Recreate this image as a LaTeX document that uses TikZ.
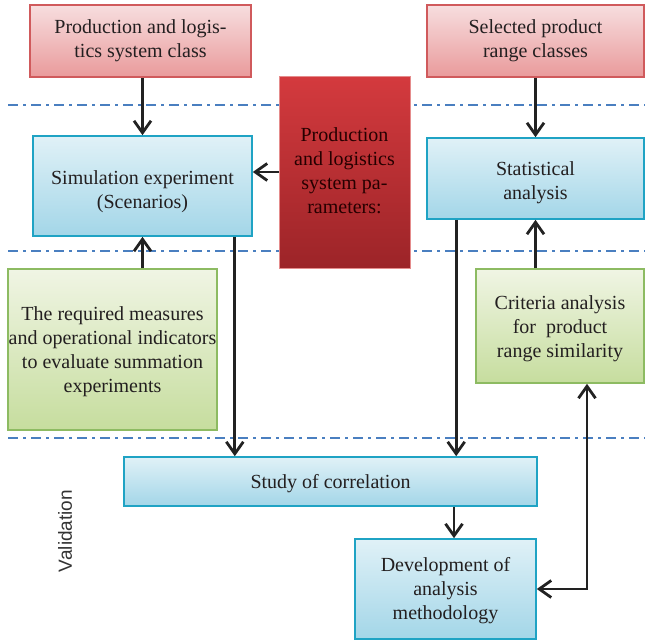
\documentclass[tikz,border=0pt]{standalone}
\usepackage{fontspec}
\setmainfont{Liberation Serif}
\setsansfont{Liberation Sans}
\usetikzlibrary{arrows.meta,calc}

\definecolor{txt}{HTML}{231F20}
\definecolor{redtop}{HTML}{F7DEDF}
\definecolor{redbot}{HTML}{E99A9B}
\definecolor{redline}{HTML}{D05A5C}
\definecolor{deeptop}{HTML}{D43A3E}
\definecolor{deepbot}{HTML}{9C2428}
\definecolor{deepline}{HTML}{E58C8C}
\definecolor{bluetop}{HTML}{E0F1F7}
\definecolor{bluebot}{HTML}{A3D6E8}
\definecolor{blueline}{HTML}{1FA3C4}
\definecolor{greentop}{HTML}{F0F5E4}
\definecolor{greenbot}{HTML}{C6DD9E}
\definecolor{greenline}{HTML}{8DBB62}
\definecolor{sepline}{HTML}{4A7FC0}
\definecolor{arrowc}{HTML}{222222}

% centred lines of text, lowered by #1 without changing the box size
\newcommand\boxlines[2]{\raisebox{-#1}[\height][\depth]{\begin{tabular}{@{}c@{}}#2\end{tabular}}}

\tikzset{
  box/.style={draw, line width=1.6pt, inner sep=0pt,
    font=\fontsize{20}{24}\selectfont, text=txt},
  redbox/.style={box, draw=redline, top color=redtop, bottom color=redbot},
  deepbox/.style={box, line width=1pt, draw=deepline, top color=deeptop, bottom color=deepbot, text=black!85!red},
  bluebox/.style={box, draw=blueline, top color=bluetop, bottom color=bluebot},
  greenbox/.style={box, draw=greenline, top color=greentop, bottom color=greenbot},
  sep/.style={draw=sepline, line width=1.8pt, dash pattern=on 10pt off 5pt on 3pt off 5pt},
  tip/.style={Straight Barb[length=12pt,width=17pt,line width=2.8pt]},
  arr/.style={draw=arrowc, line width=2.8pt, -{Straight Barb[length=12pt,width=17pt,line width=2.8pt]}},
  arrboth/.style={draw=arrowc, line width=2.8pt,
    {Straight Barb[length=12pt,width=17pt,line width=2.8pt]}-{Straight Barb[length=12pt,width=17pt,line width=2.8pt]}}
}

\begin{document}
\begin{tikzpicture}[x=1pt,y=-1pt]
\useasboundingbox (0,0) rectangle (645,640);

% separating dash-dot lines between the levels
\draw[sep] (8,105) -- (645,105);
\draw[sep] (8,251) -- (645,251);
\draw[sep] (8,438) -- (645,438);

% boxes
\node[redbox, minimum width=221pt, minimum height=72pt] (plclass) at (140.5,41)
  {\boxlines{0pt}{Production and logis-\\tics system class}};
\node[redbox, minimum width=217pt, minimum height=72pt] (range) at (535.5,41)
  {\boxlines{0pt}{Selected product\\range classes}};
\node[deepbox, minimum width=131pt, minimum height=192pt] (params) at (344.5,172)
  {\boxlines{0.5pt}{Production\\and logistics\\system pa-\\rameters:}};
\node[bluebox, minimum width=219pt, minimum height=100pt] (sim) at (142.5,186)
  {\boxlines{6pt}{Simulation experiment\\(Scenarios)}};
\node[bluebox, minimum width=217pt, minimum height=81pt] (stat) at (535.5,178.5)
  {\boxlines{4pt}{Statistical\\analysis}};
\node[greenbox, minimum width=209pt, minimum height=161pt] (measures) at (112.5,349.5)
  {\boxlines{2pt}{The required measures\\and operational indicators\\to evaluate summation\\experiments}};
\node[greenbox, minimum width=168pt, minimum height=114pt] (criteria) at (560,326)
  {\boxlines{3pt}{Criteria analysis\\for~ product\\range similarity}};
\node[bluebox, minimum width=413pt, minimum height=49pt] (corr) at (330.5,481.5)
  {\boxlines{2pt}{Study of correlation}};
\node[bluebox, minimum width=181pt, minimum height=100pt] (dev) at (445.5,589)
  {\boxlines{2pt}{Development of\\analysis\\methodology}};

\node[rotate=90, font=\sffamily\fontsize{19}{22}\selectfont, text=black!80] (valid) at (65,531) {Validation};

% connectors
\coordinate (simout) at ($(sim.south east)+(-18,0)$);
\coordinate (statout) at ($(stat.south west)+(30,0)$);
\coordinate (devin) at ($(dev.north)+(8.5,0)$);
\coordinate (critout) at ($(criteria.south)+(27,0)$);

\draw[arr] (plclass.south -| sim.north) -- (sim.north);
\draw[arr] (params.west) -- (params.west -| sim.east);
\draw[arr] (range.south) -- (stat.north);
\draw[arr] (measures.north -| sim.south) -- (sim.south);
\draw[arr] (simout) -- (simout |- corr.north);
\draw[arr] (statout) -- (statout |- corr.north);
\draw[arr] (criteria.north -| stat.south) -- (stat.south);
\draw[arr] (devin |- corr.south) -- (devin);
\draw[arrboth] (critout) |- (dev.east);
\end{tikzpicture}
\end{document}
